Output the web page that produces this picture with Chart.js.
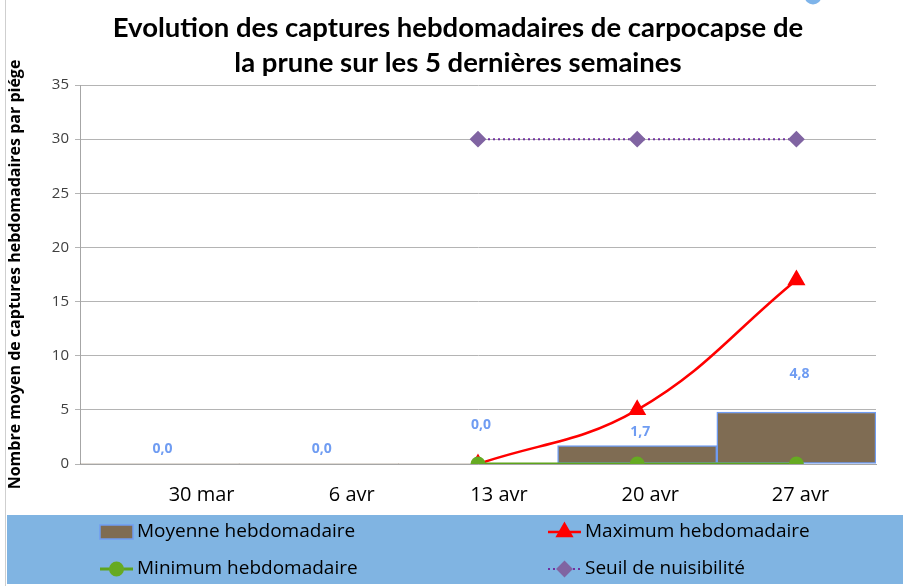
<!DOCTYPE html>
<html>
<head>
<meta charset="utf-8">
<script src="https://cdn.jsdelivr.net/npm/chart.js@4.4.1/dist/chart.umd.min.js"></script>
<style>
    html, body { margin: 0; padding: 0; background: #fff; }
    #wrap { width: 903px; height: 586px; }
</style>
</head>
<body>
<div id="wrap"><canvas id="captures"></canvas></div>
<script>
const weeks = ['30 mar', '6 avr', '13 avr', '20 avr', '27 avr'];
const moyenne = [0, 0, 0, 1.7, 4.8];
const maximum = [null, null, 0, 5, 17];
const minimum = [null, null, 0, 0, 0];
const seuil = [null, null, 30, 30, 30];

const titleLines = ['Evolution des captures hebdomadaires de carpocapse de', 'la prune sur les 5 dernières semaines'];

const FONT = "Lato, 'Open Sans', sans-serif";
const AXIS_FONT = "'Open Sans', sans-serif";

// small nudges used by the label drawing below (Excel-like placement)
const weekLabelShift = [42, 33, 21, 13, 4];
const valueLabelLift = [15, 15, 39, 14, 38];

const frDecimal = v => v.toFixed(1).replace('.', ',');

// White background, frame line, little blue dot and the two-line title
const decorations = {
    id: 'decorations',
    beforeDraw(chart) {
        const ctx = chart.ctx;
        ctx.save();
        ctx.fillStyle = '#ffffff';
        ctx.fillRect(0, 0, chart.width, chart.height);
        ctx.strokeStyle = '#cfcfcf';
        ctx.lineWidth = 1;
        ctx.beginPath();
        ctx.moveTo(5.5, 0);
        ctx.lineTo(5.5, chart.height);
        ctx.stroke();
        ctx.fillStyle = '#7eb4ea';
        ctx.beginPath();
        ctx.arc(813, -4, 8.5, 0, Math.PI * 2);
        ctx.fill();

        ctx.fillStyle = '#000';
        ctx.font = 'bold 27.5px ' + FONT;
        ctx.textAlign = 'center';
        ctx.textBaseline = 'middle';
        titleLines.forEach((t, i) => ctx.fillText(t, 458, 28 + i * 35));
        ctx.restore();
    }
};

// Week names under the axis
const weekLabels = {
    id: 'weekLabels',
    afterDraw(chart) {
        const ctx = chart.ctx;
        const x = chart.scales.x;
        ctx.save();
        ctx.font = '20px ' + AXIS_FONT;
        ctx.fillStyle = '#000';
        ctx.textAlign = 'center';
        ctx.textBaseline = 'middle';
        weeks.forEach((w, i) => {
            ctx.fillText(w, x.getPixelForValue(i) + weekLabelShift[i], chart.chartArea.bottom + 31);
        });
        ctx.restore();
    }
};

// Values of the weekly average above each bar
const barValues = {
    id: 'barValues',
    afterDatasetsDraw(chart) {
        const ctx = chart.ctx;
        const meta = chart.getDatasetMeta(0);
        ctx.save();
        ctx.font = 'bold 14px ' + AXIS_FONT;
        ctx.fillStyle = '#6f9cf2';
        ctx.textAlign = 'center';
        ctx.textBaseline = 'middle';
        meta.data.forEach((bar, i) => {
            ctx.fillText(frDecimal(moyenne[i]), bar.x + 3, bar.y - valueLabelLift[i]);
        });
        ctx.restore();
    }
};

// Two-column legend on a blue band
const bandLegend = {
    id: 'bandLegend',
    afterDraw(chart) {
        const ctx = chart.ctx;
        const top = chart.height - 71;
        ctx.save();
        ctx.fillStyle = '#80b4e2';
        ctx.fillRect(7, top, chart.width - 7, 69);
        ctx.font = '19px ' + AXIS_FONT;
        ctx.textBaseline = 'middle';
        const cols = [100, 548];
        const rows = [top + 17, top + 54];
        chart.data.datasets.forEach((ds, i) => {
            const x = cols[i % 2];
            const y = rows[Math.floor(i / 2)];
            if (ds.type === 'bar') {
                ctx.fillStyle = ds.backgroundColor;
                ctx.fillRect(x, y - 7, 33, 14);
                ctx.strokeStyle = ds.borderColor;
                ctx.lineWidth = 1.5;
                ctx.strokeRect(x, y - 7, 33, 14);
            } else {
                ctx.strokeStyle = ds.borderColor;
                ctx.lineWidth = ds.borderWidth;
                ctx.setLineDash(ds.borderDash || []);
                ctx.beginPath();
                ctx.moveTo(x, y);
                ctx.lineTo(x + 33, y);
                ctx.stroke();
                ctx.setLineDash([]);
                ctx.fillStyle = ds.pointBackgroundColor;
                ctx.strokeStyle = ds.pointBorderColor;
                Chart.helpers.drawPoint(ctx, {
                    pointStyle: ds.pointStyle,
                    radius: ds.pointRadius,
                    rotation: 0,
                    borderWidth: 1
                }, x + 16.5, y);
            }
            ctx.fillStyle = '#000';
            ctx.fillText(ds.label, x + 37, y);
        });
        ctx.restore();
    }
};

new Chart(document.getElementById('captures'), {
    data: {
        labels: weeks,
        datasets: [
            {
                type: 'bar',
                label: 'Moyenne hebdomadaire',
                data: moyenne,
                backgroundColor: '#7f6c53',
                borderColor: '#6f9cf2',
                borderWidth: ctx => (ctx.raw > 0 ? 1.5 : 0),
                borderSkipped: false,
                categoryPercentage: 1,
                barPercentage: 1,
                order: 4
            },
            {
                type: 'line',
                label: 'Maximum hebdomadaire',
                data: maximum,
                borderColor: '#ff0000',
                borderWidth: 2.5,
                tension: 0.4,
                pointStyle: 'triangle',
                pointRadius: 8,
                pointBackgroundColor: '#ff0000',
                pointBorderColor: '#ff0000',
                order: 2
            },
            {
                type: 'line',
                label: 'Minimum hebdomadaire',
                data: minimum,
                borderColor: '#5ea41c',
                borderWidth: 3,
                pointStyle: 'circle',
                pointRadius: 6,
                pointBackgroundColor: '#66aa22',
                pointBorderColor: '#66aa22',
                order: 1
            },
            {
                type: 'line',
                label: 'Seuil de nuisibilité',
                data: seuil,
                borderColor: '#7030a0',
                borderWidth: 2,
                borderDash: [2, 3],
                pointStyle: 'rectRot',
                pointRadius: 7,
                pointBackgroundColor: '#8064a2',
                pointBorderColor: '#8064a2',
                order: 3
            }
        ]
    },
    options: {
        responsive: true,
        maintainAspectRatio: false,
        animation: false,
        layout: { padding: { left: 6, right: 27, top: 85, bottom: 71 } },
        plugins: {
            legend: { display: false },
            tooltip: { enabled: false },
            title: { display: false }
        },
        scales: {
            x: {
                grid: { display: false },
                border: { color: '#a6a6a6' },
                ticks: { display: false },
                afterFit: scale => { scale.height = 51; }
            },
            y: {
                min: 0,
                max: 35,
                ticks: { stepSize: 5, color: '#404040', font: { family: AXIS_FONT, size: 15 }, padding: 6 },
                grid: { color: '#b4b4b4', tickLength: 5 },
                border: { color: '#a6a6a6' },
                title: {
                    display: true,
                    text: 'Nombre moyen de captures hebdomadaires par piége',
                    color: '#000',
                    font: { family: AXIS_FONT, size: 16, weight: 'bold' },
                    padding: { top: 0, bottom: 6 }
                },
                afterFit: scale => { scale.width = 74; }
            }
        }
    },
    plugins: [decorations, weekLabels, barValues, bandLegend]
});
</script>
</body>
</html>
